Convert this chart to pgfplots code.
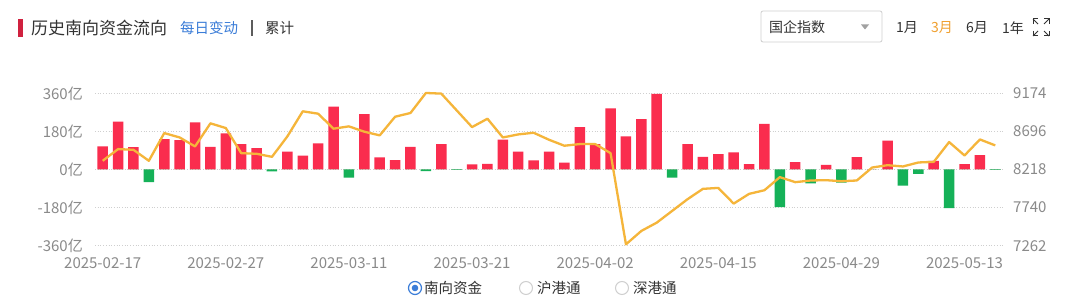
\documentclass[border=0pt]{standalone}
\usepackage{fontspec}
\setmainfont{Noto Sans CJK SC}
\usepackage{pgfplots}
\usepackage{pgfplotstable}
\pgfplotsset{compat=1.18}
\definecolor{barred}{HTML}{FA2D4E}
\definecolor{bargreen}{HTML}{15B158}
\definecolor{lineor}{HTML}{F5B53A}
\definecolor{gridc}{HTML}{CFCFCF}
\definecolor{tickc}{HTML}{8A8A8A}
\definecolor{titlec}{HTML}{333333}
\definecolor{bluec}{HTML}{3B7DD8}
\definecolor{orc}{HTML}{F0A030}
\definecolor{markred}{HTML}{D0213F}
\pgfplotstableread{
i red green idx
0 109 0 8327
1 226 0 8474
2 106 0 8465
3 0 -60 8327
4 144 0 8675
5 139 0 8620
6 223 0 8507
7 107 0 8797
8 171 0 8738
9 120 0 8423
10 101 0 8415
11 0 -9 8377
12 85 0 8633
13 66 0 8948
14 123 0 8918
15 297 0 8730
16 0 -38 8759
17 262 0 8692
18 57 0 8646
19 44 0 8880
20 107 0 8927
21 0 -8 9178
22 120 0 9170
23 0 -2 8960
24 24 0 8750
25 27 0 8855
26 141 0 8620
27 85 0 8658
28 43 0 8679
29 84 0 8591
30 32 0 8516
31 200 0 8537
32 120 0 8537
33 289 0 8423
34 156 0 7279
35 238 0 7447
36 357 0 7551
37 0 -38 7698
38 120 0 7845
39 60 0 7975
40 73 0 7987
41 81 0 7790
42 25 0 7912
43 215 0 7958
44 0 -178 8122
45 35 0 8059
46 0 -66 8080
47 22 0 8084
48 0 -62 8071
49 58 0 8080
50 0 0 8243
51 136 0 8272
52 0 -76 8256
53 0 -21 8306
54 41 0 8314
55 0 -183 8562
56 25 0 8394
57 68 0 8595
58 0 -2 8520
}\data
\begin{document}
\begin{tikzpicture}[x=1pt,y=1pt]
\fill[white] (0,0) rectangle (1080,304);
\path[use as bounding box] (0,0) rectangle (1080,304);
% header
\fill[markred] (18.3,267.3) rectangle (22.5,285);
\node[anchor=west,inner sep=0pt,text=titlec] at (31,276) {\fontsize{17}{17}\selectfont 历史南向资金流向};
\node[anchor=west,inner sep=0pt,text=bluec] at (180,276) {\fontsize{14.5}{14.5}\selectfont 每日变动};
\draw[titlec!80,line width=1.3pt] (252,268) -- (252,284);
\node[anchor=west,inner sep=0pt,text=titlec] at (265,276) {\fontsize{14.5}{14.5}\selectfont 累计};
\draw[gridc,line width=0.8pt,rounded corners=2pt] (761,262) rectangle (882,293);
\node[anchor=west,inner sep=0pt,text=titlec] at (769,277) {\fontsize{14}{14}\selectfont 国企指数};
\fill[tickc!80] (861,279.5) -- (869,279.5) -- (865,274.5) -- cycle;
\node[anchor=west,inner sep=0pt,text=titlec] at (896,276) {\fontsize{14}{14}\selectfont 1月};
\node[anchor=west,inner sep=0pt,text=orc] at (931,276) {\fontsize{14}{14}\selectfont 3月};
\node[anchor=west,inner sep=0pt,text=titlec] at (966,276) {\fontsize{14}{14}\selectfont 6月};
\node[anchor=west,inner sep=0pt,text=titlec] at (1002,276) {\fontsize{14}{14}\selectfont 1年};
\begin{scope}[titlec,line width=1pt]
\draw (1033,280) -- (1033,285) -- (1038,285); \draw (1033,285) -- (1038,280);
\draw (1049,280) -- (1049,285) -- (1044,285); \draw (1049,285) -- (1044,280);
\draw (1033,273) -- (1033,268) -- (1038,268); \draw (1033,268) -- (1038,273);
\draw (1049,273) -- (1049,268) -- (1044,268); \draw (1049,268) -- (1044,273);
\end{scope}
% legend
\draw[bluec,line width=1.2pt] (415,16) circle (6.5pt);
\fill[bluec] (415,16) circle (3.3pt);
\node[anchor=west,inner sep=0pt,text=titlec] at (424,16) {\fontsize{14.5}{14.5}\selectfont 南向资金};
\draw[gridc,line width=1pt] (526,16) circle (6.5pt);
\node[anchor=west,inner sep=0pt,text=titlec] at (537,16) {\fontsize{14.5}{14.5}\selectfont 沪港通};
\draw[gridc,line width=1pt] (622,16) circle (6.5pt);
\node[anchor=west,inner sep=0pt,text=titlec] at (633,16) {\fontsize{14.5}{14.5}\selectfont 深港通};
% bars
\begin{axis}[at={(95pt,58.3pt)}, anchor=south west, scale only axis,
  width=908pt, height=152.4pt, xmin=-0.5, xmax=58.5, ymin=-360, ymax=360,
  axis line style={draw=none}, tick style={draw=none},
  ytick={-360,-180,0,180,360}, yticklabels={-360亿,-180亿,0亿,180亿,360亿},
  xtick={0,8,16,24,32,40,48,56},
  xticklabels={2025-02-17,2025-02-27,2025-03-11,2025-03-21,2025-04-02,2025-04-15,2025-04-29,2025-05-13},
  ymajorgrids, grid style={gridc,line width=0.9pt,dash pattern=on 0.9pt off 1.8pt},
  ticklabel style={font=\fontsize{15}{15}\selectfont,text=tickc},
  yticklabel style={anchor=east,inner sep=0pt,xshift=-12pt},
  xticklabel style={anchor=base,inner sep=0pt,yshift=-23pt},
  clip=false]
\addplot[ybar,bar shift=0pt,bar width=10.5pt,fill=barred,draw=none] table[x=i,y=red]{\data};
\addplot[ybar,bar shift=0pt,bar width=10.5pt,fill=bargreen,draw=none] table[x=i,y=green]{\data};
\end{axis}
% line
\begin{axis}[at={(95pt,58.3pt)}, anchor=south west, scale only axis,
  width=908pt, height=152.4pt, xmin=-0.5, xmax=58.5, ymin=7262, ymax=9174,
  hide x axis, axis y line*=right, axis line style={draw=none}, tick style={draw=none},
  ytick={7262,7740,8218,8696,9174}, yticklabels={7262,7740,8218,8696,9174},
  yticklabel style={anchor=west,inner sep=0pt,xshift=10pt,font=\fontsize{15}{15}\selectfont,text=tickc},
  clip=false]
\addplot[lineor,line width=2.3pt,no markers,line join=round] table[x=i,y=idx]{\data};
\end{axis}
\end{tikzpicture}
\end{document}
